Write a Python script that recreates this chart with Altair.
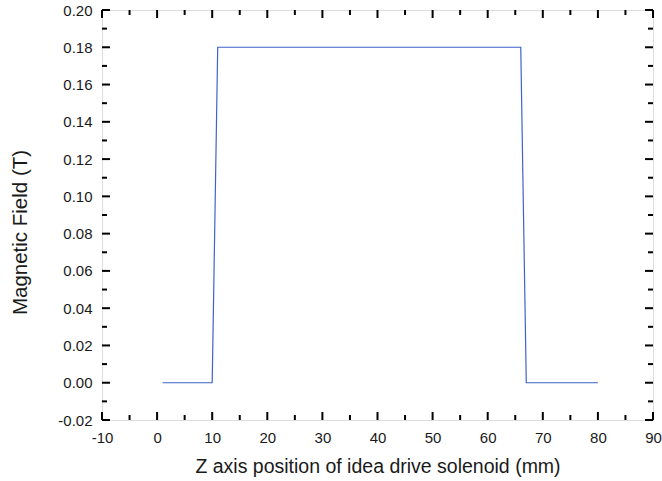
import altair as alt
import pandas as pd

# Data
z_mm = [1, 10, 11, 66, 67, 80]
field_T = [0.0, 0.0, 0.18, 0.18, 0.0, 0.0]

x_major = [-10, 0, 10, 20, 30, 40, 50, 60, 70, 80, 90]
x_minor = [-5, 5, 15, 25, 35, 45, 55, 65, 75, 85]
y_major = [-0.02, 0.00, 0.02, 0.04, 0.06, 0.08, 0.10, 0.12, 0.14, 0.16, 0.18, 0.20]
y_minor = [-0.01, 0.01, 0.03, 0.05, 0.07, 0.09, 0.11, 0.13, 0.15, 0.17, 0.19]

W, H = 551, 410
FONT = "Liberation Sans"

df = pd.DataFrame({"z": z_mm, "B": field_T})
xmaj = pd.DataFrame({"v": x_major})
xmin = pd.DataFrame({"v": x_minor})
ymaj = pd.DataFrame({"v": y_major})
ymin = pd.DataFrame({"v": y_minor})

xscale = alt.Scale(domain=[-10, 90], nice=False, zero=False)
yscale = alt.Scale(domain=[-0.02, 0.20], nice=False, zero=False)

xaxis = alt.Axis(
    title="Z axis position of idea drive solenoid (mm)",
    values=x_major, format="d", grid=False, domain=False, ticks=False,
    labelFlush=False, labelOverlap=False,
    labelFont=FONT, labelFontSize=15, labelColor="#1a1a1a", labelPadding=10,
    titleFont=FONT, titleFontSize=19.5, titleFontWeight="normal", titleColor="#1a1a1a",
    titlePadding=12,
)
yaxis = alt.Axis(
    title="Magnetic Field (T)",
    values=y_major, format=".2f", grid=False, domain=False, ticks=False,
    labelFlush=False, labelOverlap=False,
    labelFont=FONT, labelFontSize=15, labelColor="#1a1a1a", labelPadding=10,
    titleFont=FONT, titleFontSize=20.5, titleFontWeight="normal", titleColor="#1a1a1a",
    titleAngle=270, titleAlign="center", titleBaseline="middle",
    titleX=-82, titleY=222,
)

line = alt.Chart(df).mark_line(color="#3f62cc", strokeWidth=1.2).encode(
    x=alt.X("z:Q", scale=xscale, axis=xaxis),
    y=alt.Y("B:Q", scale=yscale, axis=yaxis),
)

def xticks(data, length):
    bottom = alt.Chart(data).mark_rule(color="black", strokeWidth=2).encode(
        x=alt.X("v:Q", scale=xscale, axis=xaxis),
        y=alt.value(H), y2=alt.value(H - length),
    )
    top = alt.Chart(data).mark_rule(color="black", strokeWidth=2).encode(
        x=alt.X("v:Q", scale=xscale, axis=xaxis),
        y=alt.value(0), y2=alt.value(length),
    )
    return [bottom, top]

def yticks(data, length):
    left = alt.Chart(data).mark_rule(color="black", strokeWidth=2).encode(
        y=alt.Y("v:Q", scale=yscale, axis=yaxis),
        x=alt.value(0), x2=alt.value(length),
    )
    right = alt.Chart(data).mark_rule(color="black", strokeWidth=2).encode(
        y=alt.Y("v:Q", scale=yscale, axis=yaxis),
        x=alt.value(W), x2=alt.value(W - length),
    )
    return [left, right]

layers = [line] + xticks(xmaj, 8) + xticks(xmin, 5) + yticks(ymaj, 8) + yticks(ymin, 5)

chart = alt.layer(*layers).properties(
    width=W, height=H,
    autosize=alt.AutoSizeParams(type="none"),
    padding={"left": 102, "top": 10, "right": 9, "bottom": 61},
    background="white",
).configure_view(stroke="black", strokeWidth=2).configure(
    locale=alt.Locale(number=alt.NumberLocale(
        decimal=".", thousands=",", grouping=[3], currency=["$", ""], minus="-"
    ))
)

chart.save("out.html", embed_options={"renderer": "svg", "actions": False})
